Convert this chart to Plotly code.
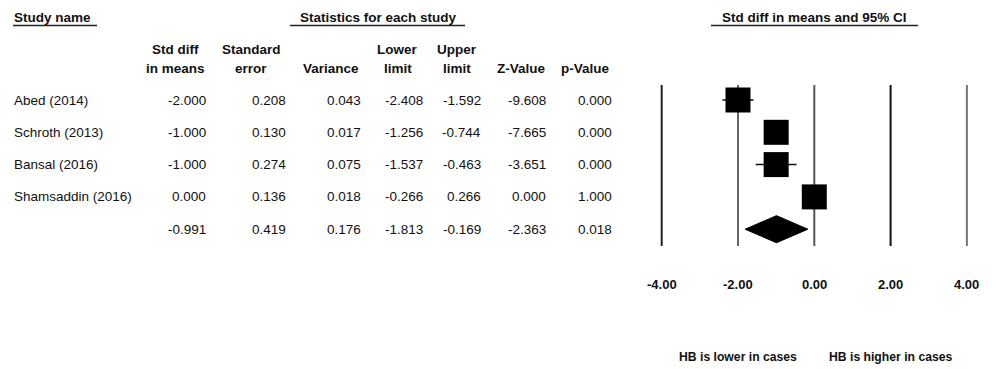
import plotly.graph_objects as go

# ---------------- data ----------------
studies = ["Abed (2014)", "Schroth (2013)", "Bansal (2016)", "Shamsaddin (2016)"]
std_diff = [-2.000, -1.000, -1.000, 0.000]
std_err = [0.208, 0.130, 0.274, 0.136]
variance = [0.043, 0.017, 0.075, 0.018]
lower = [-2.408, -1.256, -1.537, -0.266]
upper = [-1.592, -0.744, -0.463, 0.266]
z_value = [-9.608, -7.665, -3.651, 0.000]
p_value = [0.000, 0.000, 0.000, 1.000]

summary = {"std_diff": -0.991, "std_err": 0.419, "variance": 0.176,
           "lower": -1.813, "upper": -0.169, "z": -2.363, "p": 0.018}

tick_vals = [-4, -2, 0, 2, 4]
tick_labels = ["-4.00", "-2.00", "0.00", "2.00", "4.00"]

col_headers = ["Std diff<br>in means", "Standard<br>error", "Variance",
               "Lower<br>limit", "Upper<br>limit", "Z-Value", "p-Value"]

# ---------------- layout helpers ----------------
W, H = 1000, 369
OFF = 8                          # page body margin offset
ROW0, ROWSTEP = 100.0 - OFF, 32.3  # pixel y of first row (figure coords), row spacing
PXU = 38.15                      # pixels per unit on the forest axis
X0PX = 814.3 - OFF               # pixel of value 0 (figure coords)

def px(x):
    return (x - OFF) / W

def py(y):
    return 1 - (y - OFF) / H

FONT = "Liberation Sans, Arial, sans-serif"
TXT = "#111111"

fig = go.Figure()

rows = list(range(len(studies)))
sum_row = len(studies)

# CI lines
ci_x, ci_y = [], []
for r, lo, hi in zip(rows, lower, upper):
    ci_x += [lo, hi, None]
    ci_y += [r, r, None]
fig.add_trace(go.Scatter(x=ci_x, y=ci_y, mode="lines",
                         line=dict(color="#111111", width=1.5),
                         hoverinfo="skip", showlegend=False))

# Squares
fig.add_trace(go.Scatter(x=std_diff, y=rows, mode="markers",
                         marker=dict(symbol="square", size=25, color="black",
                                     line=dict(width=0)),
                         showlegend=False, cliponaxis=False))

# Summary diamond
dh = 0.42
fig.add_trace(go.Scatter(
    x=[summary["lower"], summary["std_diff"], summary["upper"], summary["std_diff"], summary["lower"]],
    y=[sum_row, sum_row - dh, sum_row, sum_row + dh, sum_row],
    mode="lines", fill="toself", fillcolor="black",
    line=dict(color="black", width=1), showlegend=False, hoverinfo="skip"))

# Vertical reference lines
line_colors = ["#222222", "#666666", "#555555", "#111111", "#777777"]
y_top = (85 - OFF - ROW0) / ROWSTEP
y_bot = (246 - OFF - ROW0) / ROWSTEP
for v, c in zip(tick_vals, line_colors):
    fig.add_shape(type="line", xref="x", yref="y", x0=v, x1=v, y0=y_top, y1=y_bot,
                  line=dict(color=c, width=2), layer="below")

annots = []

def add_text(text, x, y, xref="paper", yref="paper", xanchor="left",
             size=13.5, bold=False, yanchor="middle"):
    annots.append(dict(text=f"<b>{text}</b>" if bold else text, x=x, y=y,
                       xref=xref, yref=yref, xanchor=xanchor, yanchor=yanchor,
                       showarrow=False, font=dict(family=FONT, size=size, color=TXT)))

# Titles with underlines
add_text("Study name", px(12), py(17), bold=True)
add_text("Statistics for each study", px(378), py(17), xanchor="center", bold=True)
add_text("Std diff in means and 95% CI", px(814), py(17), xanchor="center", bold=True)
for x0, x1 in [(13, 97), (290, 465), (711, 918)]:
    fig.add_shape(type="line", xref="paper", yref="paper", x0=px(x0), x1=px(x1),
                  y0=py(25.5), y1=py(25.5), line=dict(color="#222222", width=1.5))

# Column headers
hdr_centers = [175, 251, 331, 397.5, 456.5, 521, 585.5]
for h, cx in zip(col_headers, hdr_centers):
    if "<br>" in h:
        top, bot = h.split("<br>")
        add_text(top, px(cx), py(50), xanchor="center", bold=True)
        add_text(bot, px(cx), py(68), xanchor="center", bold=True)
    else:
        add_text(h, px(cx), py(68), xanchor="center", bold=True)

# Table body
col_right = [208, 288, 363, 424.5, 482.5, 548, 614]
for r, name in enumerate(studies):
    add_text(name, px(12), r, yref="y")
    vals = [std_diff[r], std_err[r], variance[r], lower[r], upper[r], z_value[r], p_value[r]]
    for v, xr in zip(vals, col_right):
        add_text(f"{v:.3f}", px(xr), r, yref="y", xanchor="right")
svals = [summary[k] for k in ["std_diff", "std_err", "variance", "lower", "upper", "z", "p"]]
for v, xr in zip(svals, col_right):
    add_text(f"{v:.3f}", px(xr), sum_row, yref="y", xanchor="right")

# Axis tick labels
for v, lab in zip(tick_vals, tick_labels):
    add_text(lab, v, py(284), xref="x", xanchor="center", bold=True, size=13)

# Direction labels
add_text("HB is lower in cases", -2, py(357), xref="x", xanchor="center", bold=True, size=12.2)
add_text("HB is higher in cases", 2, py(357), xref="x", xanchor="center", bold=True, size=12.2)

# axes
xr_lo, xr_hi = -4.3, 4.3
d0 = (X0PX + xr_lo * PXU) / W
d1 = (X0PX + xr_hi * PXU) / W
fig.update_layout(
    width=W, height=H, margin=dict(l=0, r=0, t=0, b=0),
    paper_bgcolor="white", plot_bgcolor="white",
    xaxis=dict(domain=[d0, d1], range=[xr_lo, xr_hi], visible=False, fixedrange=True),
    yaxis=dict(domain=[0, 1], range=[(H - ROW0) / ROWSTEP, -ROW0 / ROWSTEP],
               visible=False, fixedrange=True),
    annotations=annots, showlegend=False,
)

fig.write_html("out.html")
